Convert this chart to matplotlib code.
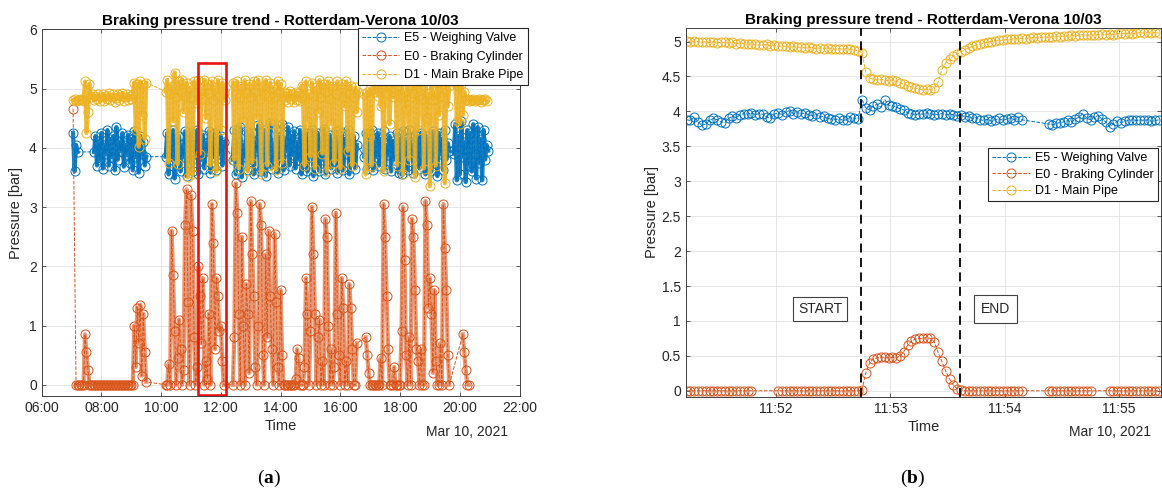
import numpy as np
import matplotlib
matplotlib.use('Agg')
import matplotlib.pyplot as plt
import matplotlib.dates as mdates
from matplotlib.patches import Rectangle
from matplotlib.ticker import FuncFormatter

nan = np.nan

# ---- left panel: one sample every 3 min from 07:00, one row per hour ----
left_start = np.datetime64('2021-03-10T07:00:00')
left_step = np.timedelta64(180, 's')

e5_left = [
    nan, 4.25, 3.60, 4.05, 3.93, nan, nan, nan, nan, nan, nan, nan, nan, nan, nan, 3.93, 4.20, 3.70, 4.10, 3.80,
    4.25, 3.65, 4.05, 3.90, 4.30, 3.70, 4.15, 3.85, 4.20, 3.62, 4.35, 3.80, 4.10, 3.95, 4.25, 3.68, 4.05, 3.88, 4.22, 3.75,
    4.15, 3.62, 4.28, 3.85, 4.05, 3.58, 4.20, 3.90, 4.10, 3.70, 3.85, nan, nan, nan, nan, nan, nan, nan, nan, nan,
    nan, nan, nan, 3.85, 4.25, 3.55, 4.10, 3.80, 4.30, 3.48, 4.15, 3.95, 4.20, 3.60, 4.05, 3.85, 4.28, 3.52, 4.12, 3.75,
    4.25, 3.60, 4.05, 3.90, 4.30, 3.55, 4.15, 3.80, 4.22, 3.65, 4.08, 3.95, 4.28, 3.58, 4.10, 3.85, 4.25, 3.62, 4.00, 3.90,
    4.20, 3.70, 4.10, nan, nan, nan, nan, nan, 3.80, 4.30, 3.55, 4.15, 3.90, 4.35, 3.50, 4.05, 3.85, 4.28, 3.62, 4.12,
    3.75, 4.25, 3.55, 4.10, 3.95, 4.38, 3.60, 4.05, 3.85, 4.30, 3.52, 4.15, 3.90, 4.42, 3.65, 4.08, 3.80, 4.32, 3.58, 4.18,
    3.85, 4.40, 3.62, 4.12, 3.95, 4.35, 3.70, 4.20, 3.88, 4.28, 3.65, 4.10, 3.80, 4.30, 3.55, 4.15, 3.92, 4.25, 3.60, 4.05,
    3.85, 4.30, 3.52, 4.18, 3.90, 4.25, 3.60, 4.10, 3.80, 4.32, 3.55, 4.15, 3.95, 4.22, 3.65, 4.08, 3.85, 4.28, 3.58, 4.12,
    3.80, 4.25, 3.62, 4.15, 3.90, 4.30, 3.55, 4.10, 3.85, 4.20, 3.65, 4.05, nan, nan, nan, nan, 3.85, 4.25, 3.65, 4.15,
    3.90, 4.30, 3.62, 4.10, 3.85, 4.25, 3.70, 4.15, 3.95, 4.28, 3.65, 4.05, 3.88, 4.20, 3.60, 4.12, 3.80, 3.95, 4.25, 3.58,
    4.15, 3.55, 4.28, 3.85, 4.10, 3.62, 4.30, 3.90, 4.05, 3.58, 4.22, 3.80, 4.15, 3.65, 4.25, 3.88, 4.08, 3.55, 4.20, 3.92,
    4.12, 3.60, 4.28, 3.85, 4.05, 3.52, 4.25, 3.90, 4.15, 3.62, 4.30, 3.80, 4.08, 3.95, nan, nan, 3.90, 4.40, 3.45, 4.20,
    3.55, 4.45, 3.85, 4.10, 3.42, 4.30, 3.70, 4.25, 3.60, 4.40, 3.90, 3.48, 4.35, 3.75, 4.15, 3.45, 4.30, 3.80, 4.05, 3.95,
]

e0_left = [
    nan, 4.66, nan, 0, 0, 0, 0, 0, 0, 0.85, 0.55, 0.25, 0, 0, 0, 0, 0, 0, 0, 0,
    0, 0, 0, 0, 0, 0, 0, 0, 0, 0, 0, 0, 0, 0, 0, 0, 0, 0, 0, 0,
    0, 0, 1.00, 0.30, 1.30, 0.70, 1.35, 0.15, 1.20, 0.55, 0.05, nan, nan, nan, nan, nan, nan, nan, nan, nan,
    nan, nan, nan, 0, 0, 0.35, 0, 2.60, 1.85, 0.90, 0, 0.45, 1.10, 0.60, 0, 0.25, 2.70, 3.30, 1.40, 0,
    3.20, 2.60, 0.80, 0, 0.30, 2.00, 1.50, 0.70, 1.80, 0, 0.40, 0.10, 1.20, 0, 3.05, 2.40, 0.60, 1.80, 1.50, 0.90,
    1.00, 0.40, 0, nan, nan, nan, nan, nan, 0, 0.80, 3.40, 2.90, 1.20, 0, 2.50, 1.00, 0, 1.70, 1.20, 0.20,
    3.10, 2.20, 1.50, 0.30, 0, 1.00, 3.05, 2.70, 0.50, 0, 2.20, 0.80, 2.60, 1.50, 0.60, 0, 2.55, 1.40, 0.30, 0,
    1.60, 0.50, 0, 0, 0, 0, 0, 0, 0, 0, 0.10, 0.60, 0.45, 0, 0, 0, 0.30, 1.80, 1.20, 0,
    0.90, 3.00, 2.20, 1.20, 0, 0.80, 1.10, 0, 0.40, 0, 2.80, 2.50, 1.00, 0, 0.60, 0, 0.30, 2.90, 1.20, 0.50,
    0, 1.80, 1.30, 0, 0.40, 0, 1.70, 1.30, 0.60, 0, 0, 0.70, nan, nan, nan, nan, nan, 0.80, 0.50, 0.20,
    0, 0, 0, 0, 0, 0, 0, 0.45, 0, 3.05, 2.50, 1.50, 0.60, 0, 0, 0, 0.30, 0, 0, 0,
    0, 0.90, 3.00, 2.10, 0.50, 0, 0.80, 0, 2.80, 2.50, 1.60, 0.60, 0.40, 0, 0.60, 0, 0, 3.10, 2.70, 1.30,
    1.80, 1.20, 0.20, 1.60, 0.40, 0, 0, 0.70, 0, 3.05, 2.30, 1.60, 0.50, 0, nan, nan, nan, nan, nan, nan,
    nan, nan, 0.85, 0.55, 0.25, 0, 0, nan, nan, nan, nan, nan, nan, nan, nan, nan, nan, nan, nan, nan,
]

d1_left = [
    nan, 4.80, 4.82, 4.79, 4.81, 4.80, 4.82, 4.80, 4.79, 5.12, 4.25, 4.60, 5.08, 4.85, 4.90, 4.80, 4.88, 4.82, 4.90, 4.79,
    4.85, 4.91, 4.79, 4.88, 4.82, 4.92, 4.80, 4.86, 4.90, 4.78, 4.84, 4.91, 4.81, 4.87, 4.92, 4.79, 4.85, 4.90, 4.80, 4.88,
    4.83, 4.90, 5.10, 4.30, 5.08, 4.02, 5.12, 4.55, 5.06, 4.15, 5.10, nan, nan, nan, nan, nan, nan, nan, nan, nan,
    nan, nan, nan, 4.95, 5.15, 3.75, 4.90, 5.05, 4.45, 5.27, 4.85, 3.72, 5.12, 4.95, 5.15, 4.60, 4.88, 5.10, 3.50, 5.02,
    4.85, 3.55, 5.12, 4.95, 4.75, 5.15, 3.90, 5.00, 4.82, 5.15, 4.50, 5.08, 4.90, 3.70, 5.12, 4.80, 5.02, 3.60, 5.14, 4.88,
    4.30, 5.10, 4.92, 4.80, nan, nan, nan, nan, 5.10, 3.80, 4.90, 5.12, 3.65, 4.85, 5.05, 4.45, 5.14, 4.92, 3.60, 5.08,
    4.85, 3.75, 5.12, 4.95, 4.50, 5.15, 4.82, 3.55, 5.05, 4.90, 5.14, 3.70, 4.88, 5.10, 4.40, 5.02, 4.85, 3.62, 5.12, 4.95,
    5.08, 3.75, 4.95, 4.80, 4.92, 4.78, 4.96, 4.82, 4.90, 4.77, 4.95, 4.81, 4.93, 4.79, 5.05, 4.85, 3.70, 5.12, 4.45, 4.90,
    3.85, 5.10, 4.88, 3.65, 5.02, 4.60, 5.14, 4.85, 3.90, 5.08, 4.95, 3.60, 5.12, 4.82, 4.40, 5.05, 3.75, 4.90, 5.12, 4.30,
    3.65, 5.08, 4.85, 4.70, 5.12, 3.95, 4.90, 5.05, 3.70, 4.85, 5.02, 4.60, 4.95, nan, nan, nan, 4.90, 3.55, 4.95, 4.20,
    5.00, 3.70, 5.12, 4.95, 5.20, 4.88, 5.25, 4.70, 5.08, 3.60, 5.18, 4.92, 5.15, 4.40, 5.20, 4.95, 4.85, 5.12, 3.70, 5.05,
    4.88, 5.12, 3.55, 4.95, 4.65, 5.14, 3.80, 4.85, 5.05, 4.92, 3.50, 5.10, 4.30, 4.88, 5.12, 4.82, 3.65, 5.05, 4.50, 4.92,
    3.35, 5.12, 4.80, 4.95, 3.70, 5.10, 4.55, 4.88, 5.08, 4.85, 3.40, 5.12, 4.70, 5.05, nan, nan, nan, 5.10, 4.45, 5.05,
    4.40, 5.08, 4.55, 4.95, 4.80, 4.82, 4.79, 4.81, 4.80, 4.83, 4.79, 4.81, 4.80, 4.82, 4.78, 4.81, 4.80, 4.82, 4.79, nan,
]

# ---- right panel: one sample every 2 s from 11:51:13 ----
right_start = np.datetime64('2021-03-10T11:51:13')
right_step = np.timedelta64(2, 's')

e5_right = [
    3.88, 3.87, 3.92, 3.85, 3.80, 3.82, 3.87, 3.90, 3.88, 3.85,
    3.84, 3.90, 3.93, 3.91, 3.95, 3.97, 3.96, 3.98, 3.95, 3.97,
    3.96, 3.92, 3.90, 3.96, 3.98, 3.95, 3.99, 4.01, 3.97, 3.99,
    3.96, 3.98, 3.95, 3.94, 3.96, 3.92, 3.93, 3.90, 3.89, 3.88,
    3.90, 3.87, 3.88, 3.92, 3.90, 3.89, 4.17, 4.05, 4.02, 4.08,
    4.10, 4.06, 4.17, 4.09, 4.08, 4.06, 4.04, 4.02, 3.98, 3.97,
    3.95, 3.97, 3.96, 3.98, 3.97, 3.95, 3.96, 3.97, 3.95, 3.96,
    3.95, 3.94, 3.95, 3.92, 3.93, 3.90, 3.91, 3.88, 3.87, 3.89,
    3.86, 3.88, 3.90, 3.87, 3.89, 3.91, 3.88, 3.92, 3.88, nan,
    nan, nan, nan, nan, nan, 3.82, 3.81, 3.83, 3.84, 3.85,
    3.87, 3.85, 3.89, 3.92, 3.97, 3.90, 3.88, 3.92, 3.94, 3.89,
    3.85, 3.78, 3.82, 3.86, 3.84, 3.86, 3.87, 3.88, 3.87, 3.88,
    3.87, 3.88, 3.86, 3.87, 3.88,
]

e0_right = [
    0, 0, 0, 0, 0, 0, 0, 0, 0, 0,
    0, 0, 0, 0, 0, 0, 0, 0, nan, nan,
    nan, nan, nan, nan, 0, 0, 0, 0, 0, 0,
    0, 0, 0, 0, 0, 0, 0, 0, 0, 0,
    0, 0, 0, 0, 0, 0, 0.01, 0.25, 0.40, 0.46,
    0.47, 0.48, 0.48, 0.47, 0.48, 0.47, 0.50, 0.56, 0.65, 0.71,
    0.74, 0.75, 0.75, 0.76, 0.75, 0.70, 0.55, 0.42, 0.28, 0.17,
    0.08, 0.03, 0.01, 0, 0, 0, 0, 0, 0, 0,
    0, 0, 0, 0, 0, 0, 0, 0, 0, nan,
    nan, nan, nan, nan, nan, 0, 0, 0, 0, 0,
    0, 0, 0, 0, 0, 0, 0, nan, nan, nan,
    nan, 0, 0, 0, 0, 0, 0, 0, 0, 0,
    0, 0, 0, 0, 0,
]

d1_right = [
    5.01, 5.00, 5.01, 5.00, 4.99, 5.00, 4.99, 5.00, 4.98, 4.99,
    4.99, 4.98, 4.99, 4.97, 4.98, 4.97, 4.96, 4.97, 4.96, 4.95,
    4.95, 4.96, 4.94, 4.95, 4.93, 4.94, 4.93, 4.92, 4.93, 4.92,
    4.92, 4.91, 4.92, 4.91, 4.90, 4.91, 4.90, 4.91, 4.90, 4.89,
    4.90, 4.89, 4.90, 4.89, 4.88, 4.87, 4.84, 4.56, 4.48, 4.46,
    4.45, 4.46, 4.45, 4.44, 4.45, 4.43, 4.41, 4.39, 4.37, 4.35,
    4.33, 4.32, 4.31, 4.32, 4.31, 4.33, 4.42, 4.60, 4.70, 4.75,
    4.79, 4.82, 4.85, 4.88, 4.91, 4.93, 4.95, 4.96, 4.98, 4.99,
    5.00, 5.01, 5.02, 5.02, 5.03, 5.03, 5.04, 5.04, 5.05, 5.04,
    5.05, 5.06, 5.05, 5.06, 5.07, 5.06, 5.07, 5.08, 5.07, 5.08,
    5.08, 5.09, 5.08, 5.09, 5.10, 5.09, 5.10, 5.09, 5.10, 5.11,
    5.10, 5.11, 5.10, 5.11, 5.12, 5.11, 5.12, 5.11, 5.12, 5.13,
    5.12, 5.13, 5.12, 5.13, 5.12,
]

labels_left = ['E5 - Weighing Valve', 'E0 - Braking Cylinder', 'D1 - Main Brake Pipe']
labels_right = ['E5 - Weighing Valve', 'E0 - Braking Cylinder', 'D1 - Main Pipe']
colors = ['#0072BD', '#D95319', '#EDB120']
# how packed each trace looks in the long record
dense_alpha = [0.9, 0.6, 0.85]

# zoomed window drawn on the left panel, braking event on the right panel
zoom_t0 = np.datetime64('2021-03-10T11:15')
zoom_t1 = np.datetime64('2021-03-10T12:11')
zoom_y0, zoom_y1 = -0.17, 5.43
event_start = np.datetime64('2021-03-10T11:52:44.700')
event_end = np.datetime64('2021-03-10T11:53:36.500')

plt.rcParams['font.family'] = ['Liberation Sans', 'DejaVu Sans']
plt.rcParams['mathtext.fontset'] = 'custom'
plt.rcParams['mathtext.bf'] = 'Liberation Serif:bold'
plt.rcParams['mathtext.rm'] = 'Liberation Serif'

TXT = '#262626'


def draw(ax, t0, step, vals, color, label, dense=None):
    v = np.array(vals, dtype=float)
    t = t0 + np.arange(len(v)) * step
    ok = ~np.isnan(v)
    if dense is not None:
        # the long record is sampled far faster than the 3 min grid:
        # a solid trace through the same samples gives the packed look
        ax.plot(t, v, ls='-', lw=3.0, color=color, alpha=dense, solid_joinstyle='round')
    ax.plot(t[ok], v[ok], ls='--', lw=0.7, color=color, marker='o', ms=6.5,
            mfc='none', mew=0.7, label=label)


def style(ax):
    ax.grid(True, color='#e3e3e3', lw=0.6)
    ax.set_axisbelow(True)
    for s in ax.spines.values():
        s.set_color('#404040')
        s.set_linewidth(0.7)
    ax.tick_params(direction='in', length=3, width=0.6, top=True, right=True,
                   colors='#404040', labelcolor=TXT, labelsize=10)


def legend(ax, anchor, labelspacing):
    leg = ax.legend(loc='upper right', bbox_to_anchor=anchor,
                    bbox_transform=fig.transFigure, fontsize=9, frameon=True,
                    fancybox=False, framealpha=1, edgecolor=TXT, handlelength=3,
                    handletextpad=0.4, labelspacing=labelspacing, borderpad=0.35,
                    borderaxespad=0, numpoints=1)
    leg.get_frame().set_linewidth(0.8)


fig = plt.figure(figsize=(11.62, 4.95), dpi=100)

# ----- (a) -----
ax1 = fig.add_axes([41.7 / 1162, 1 - 396 / 495, (519.5 - 41.7) / 1162, (396 - 29.3) / 495])
for vals, c, lab, a in zip([e5_left, e0_left, d1_left], colors, labels_left, dense_alpha):
    draw(ax1, left_start, left_step, vals, c, lab, dense=a)
ax1.set_xlim(np.datetime64('2021-03-10T06:00'), np.datetime64('2021-03-10T22:00'))
ax1.set_ylim(-0.19, 6)
ax1.set_yticks(range(0, 7))
ax1.xaxis.set_major_locator(mdates.HourLocator(byhour=range(6, 23, 2)))
ax1.xaxis.set_major_formatter(mdates.DateFormatter('%H:%M'))
style(ax1)
x0 = mdates.date2num(zoom_t0)
x1 = mdates.date2num(zoom_t1)
ax1.add_patch(Rectangle((x0, zoom_y0), x1 - x0, zoom_y1 - zoom_y0, fill=False,
                        edgecolor='#ee1111', lw=1.9, zorder=5))
ax1.set_title('Braking pressure trend - Rotterdam-Verona 10/03', fontsize=11,
              fontweight='bold', pad=3)
ax1.set_xlabel('Time', fontsize=10.5, color=TXT, labelpad=3)
ax1.set_ylabel('Pressure [bar]', fontsize=10.5, color=TXT, labelpad=4)
legend(ax1, (528 / 1162, 1 - 28 / 495), 0.5)
fig.text(467 / 1162, 1 - 432 / 495, 'Mar 10, 2021', fontsize=10, color=TXT,
         ha='center', va='center')

# ----- (b) -----
ax2 = fig.add_axes([685.7 / 1162, 1 - 396.7 / 495, (1161 - 685.7) / 1162, (396.7 - 28.3) / 495])
for vals, c, lab in zip([e5_right, e0_right, d1_right], colors, labels_right):
    draw(ax2, right_start, right_step, vals, c, lab)
ax2.set_xlim(np.datetime64('2021-03-10T11:51:12.500'), np.datetime64('2021-03-10T11:55:22'))
ax2.set_ylim(-0.085, 5.19)
ax2.set_yticks(np.arange(0, 5.01, 0.5))
ax2.yaxis.set_major_formatter(FuncFormatter(lambda v, p: '%g' % v))
ax2.xaxis.set_major_locator(mdates.MinuteLocator())
ax2.xaxis.set_major_formatter(mdates.DateFormatter('%H:%M'))
style(ax2)
for ev in [event_start, event_end]:
    ax2.axvline(ev, color='k', ls=(0, (5, 3)), lw=1.3, zorder=4)
ax2.text(np.datetime64('2021-03-10T11:52:23'), 1.17, 'START', fontsize=10, color=TXT,
         ha='center', va='center', zorder=6,
         bbox=dict(boxstyle='square,pad=0.35', facecolor='white', edgecolor='#404040', lw=0.8))
ax2.text(np.datetime64('2021-03-10T11:53:55'), 1.17, 'END', fontsize=10, color=TXT,
         ha='center', va='center', zorder=6,
         bbox=dict(boxstyle='square,pad=0.5', facecolor='white', edgecolor='#404040', lw=0.8))
ax2.set_title('Braking pressure trend - Rotterdam-Verona 10/03', fontsize=11,
              fontweight='bold', pad=3)
ax2.set_xlabel('Time', fontsize=10.5, color=TXT, labelpad=3)
ax2.set_ylabel('Pressure [bar]', fontsize=10.5, color=TXT, labelpad=2)
legend(ax2, (1158 / 1162, 1 - 148 / 495), 0.35)
fig.text(1110 / 1162, 1 - 432 / 495, 'Mar 10, 2021', fontsize=10, color=TXT,
         ha='center', va='center')

# panel letters
fig.text(269 / 1162, 1 - 478 / 495, r'($\mathbf{a}$)', fontsize=14, family='Liberation Serif',
         ha='center', va='center')
fig.text(913 / 1162, 1 - 478 / 495, r'($\mathbf{b}$)', fontsize=14, family='Liberation Serif',
         ha='center', va='center')

fig.savefig('out.png', dpi=100)
